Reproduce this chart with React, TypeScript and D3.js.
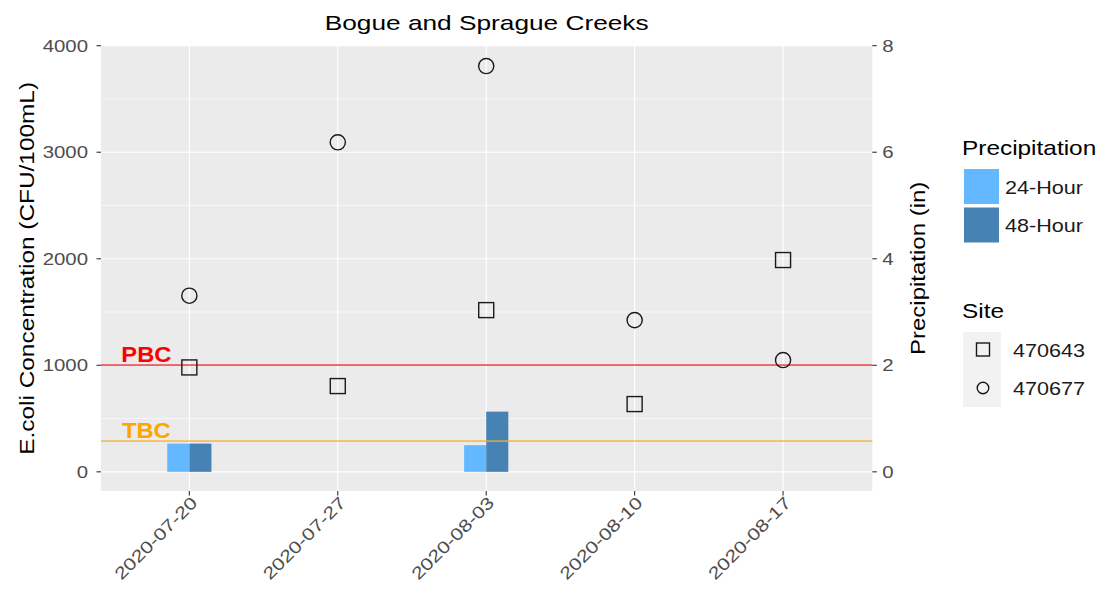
import React from "react";
import * as d3 from "d3";

const dates = ["2020-07-20", "2020-07-27", "2020-08-03", "2020-08-10", "2020-08-17"];
const site470643 = [980, 805, 1518, 636, 1988];
const site470677 = [1653, 3093, 3809, 1424, 1049];
const precip24 = [0.53, 0, 0.5, 0, 0];
const precip48 = [0.53, 0, 1.13, 0, 0];
const leftTicks = [0, 1000, 2000, 3000, 4000];
const leftMinor = [500, 1500, 2500, 3500];
const rightTicks = [0, 2, 4, 6, 8];
const PBC = 1000;
const TBC = 290;
const precipLabels = ["24-Hour", "48-Hour"];
const siteLabels = ["470643", "470677"];

const W = 1102;
const H = 598;
const SX = 1.2;
const FONT = "'Liberation Sans', Arial, sans-serif";
const C24 = "#63B8FF";
const C48 = "#4682B4";

const parse = d3.utcParse("%Y-%m-%d");
const D = dates.map((s) => parse(s) as Date);

const P = { left: 101, right: 872.3, top: 45.7, bottom: 491 };

const x = d3
  .scaleUtc()
  .domain([d3.utcHour.offset(D[0], -100), d3.utcHour.offset(D[D.length - 1], 101)])
  .range([P.left, P.right]);
const yL = d3.scaleLinear().domain([-180, 4000]).range([P.bottom, P.top]);
const yR = d3.scaleLinear().domain([-0.36, 8]).range([P.bottom, P.top]);

function T(props: {
  x: number;
  y: number;
  rot?: number;
  size: number;
  anchor?: string;
  fill?: string;
  weight?: string;
  sx?: number;
  children: React.ReactNode;
}) {
  const { x: tx, y: ty, rot = 0, size, anchor = "start", fill = "#000", weight = "normal", sx = SX } = props;
  return (
    <text
      transform={`translate(${tx},${ty}) rotate(${rot}) scale(${sx},1)`}
      fontSize={size}
      textAnchor={anchor}
      fill={fill}
      fontWeight={weight}
      fontFamily={FONT}
    >
      {props.children}
    </text>
  );
}

export default function App() {
  const barH = (v: number) => yR(0) - yR(v);
  const hline = (v: number, color: string, key: string) => (
    <rect key={key} x={P.left} y={Math.round(yL(v)) - 0.6} width={P.right - P.left} height={1.3} fill={color} />
  );
  return (
    <svg width={W} height={H} style={{ position: "absolute", left: 0, top: 0, background: "#fff" }}>
      {/* panel */}
      <rect x={P.left} y={P.top} width={P.right - P.left} height={P.bottom - P.top} fill="#EBEBEB" />
      {leftMinor.map((v) => (
        <line key={"mn" + v} x1={P.left} x2={P.right} y1={yL(v)} y2={yL(v)} stroke="#fff" strokeWidth={0.6} />
      ))}
      {leftTicks.map((v) => (
        <line key={"mj" + v} x1={P.left} x2={P.right} y1={yL(v)} y2={yL(v)} stroke="#fff" strokeWidth={1.2} />
      ))}
      {D.map((d, i) => (
        <line key={"vx" + i} x1={x(d)} x2={x(d)} y1={P.top} y2={P.bottom} stroke="#fff" strokeWidth={1.2} />
      ))}

      {/* bars */}
      {D.map((d, i) => (
        <g key={"b" + i}>
          {precip24[i] > 0 && (
            <rect
              x={x(d3.utcHour.offset(d, -25))}
              y={yR(precip24[i])}
              width={x(d) - x(d3.utcHour.offset(d, -25))}
              height={barH(precip24[i])}
              fill={C24}
            />
          )}
          {precip48[i] > 0 && (
            <rect
              x={x(d)}
              y={yR(precip48[i])}
              width={x(d3.utcHour.offset(d, 25)) - x(d)}
              height={barH(precip48[i])}
              fill={C48}
            />
          )}
        </g>
      ))}

      {/* threshold lines */}
      {hline(PBC, "#EE1C25", "pbc")}
      {hline(TBC, "#F7B02C", "tbc")}
      <T x={x(D[0]) - 43} y={yL(PBC) - 3} size={22} anchor="middle" fill="#F00" weight="bold" sx={1.08}>
        PBC
      </T>
      <T x={x(D[0]) - 43} y={yL(TBC) - 3} size={22} anchor="middle" fill="#FFA500" weight="bold" sx={1.08}>
        TBC
      </T>

      {/* points */}
      {D.map((d, i) => (
        <rect
          key={"s" + i}
          x={x(d) - 7.5}
          y={yL(site470643[i]) - 7.5}
          width={15}
          height={15}
          fill="none"
          stroke="#1a1a1a"
          strokeWidth={1.4}
        />
      ))}
      {D.map((d, i) => (
        <circle key={"c" + i} cx={x(d)} cy={yL(site470677[i])} r={7.6} fill="none" stroke="#1a1a1a" strokeWidth={1.4} />
      ))}

      {/* left axis */}
      {leftTicks.map((v) => (
        <g key={"lt" + v}>
          <line x1={P.left - 4.5} x2={P.left} y1={yL(v)} y2={yL(v)} stroke="#333" strokeWidth={1.1} />
          <T x={P.left - 13} y={yL(v) + 6.2} size={17} anchor="end" fill="#4D4D4D">
            {String(v)}
          </T>
        </g>
      ))}
      {/* right axis */}
      {rightTicks.map((v) => (
        <g key={"rt" + v}>
          <line x1={P.right} x2={P.right + 4.5} y1={yR(v)} y2={yR(v)} stroke="#333" strokeWidth={1.1} />
          <T x={P.right + 10} y={yR(v) + 6.2} size={17} anchor="start" fill="#4D4D4D">
            {String(v)}
          </T>
        </g>
      ))}
      {/* x axis */}
      {D.map((d, i) => (
        <g key={"xt" + i}>
          <line x1={x(d)} x2={x(d)} y1={P.bottom} y2={P.bottom + 4.5} stroke="#333" strokeWidth={1.1} />
          <T x={x(d) + 9} y={P.bottom + 13} rot={-45} size={17} anchor="end" fill="#4D4D4D" sx={1.25}>
            {dates[i]}
          </T>
        </g>
      ))}

      {/* titles */}
      <T x={(P.left + P.right) / 2} y={30} size={21} anchor="middle" fill="#000" sx={1.25}>
        Bogue and Sprague Creeks
      </T>
      <T x={34} y={(P.top + P.bottom) / 2} rot={-90} size={20} anchor="middle" fill="#000" sx={1.22}>
        E.coli Concentration (CFU/100mL)
      </T>
      <T x={925} y={(P.top + P.bottom) / 2} rot={-90} size={20} anchor="middle" fill="#000" sx={1.2}>
        Precipitation (in)
      </T>

      {/* legend: precipitation */}
      <T x={962} y={155} size={20} fill="#000" sx={1.22}>
        Precipitation
      </T>
      {[C24, C48].map((c, i) => (
        <g key={"lp" + i}>
          <rect x={964} y={169 + i * 38.5} width={35} height={35} fill={c} />
          <T x={1005} y={193.5 + i * 38.5} size={18} fill="#1a1a1a">
            {precipLabels[i]}
          </T>
        </g>
      ))}

      {/* legend: site */}
      <T x={962} y={318} size={20} fill="#000" sx={1.22}>
        Site
      </T>
      <rect x={963} y={332} width={38} height={75} fill="#F2F2F2" />
      <rect x={976.5} y={343} width={13} height={13} fill="none" stroke="#1a1a1a" strokeWidth={1.4} />
      <circle cx={983} cy={388} r={5.8} fill="none" stroke="#1a1a1a" strokeWidth={1.4} />
      {siteLabels.map((s, i) => (
        <T key={"sl" + i} x={1013} y={356.5 + i * 38} size={18} fill="#1a1a1a">
          {s}
        </T>
      ))}
    </svg>
  );
}
